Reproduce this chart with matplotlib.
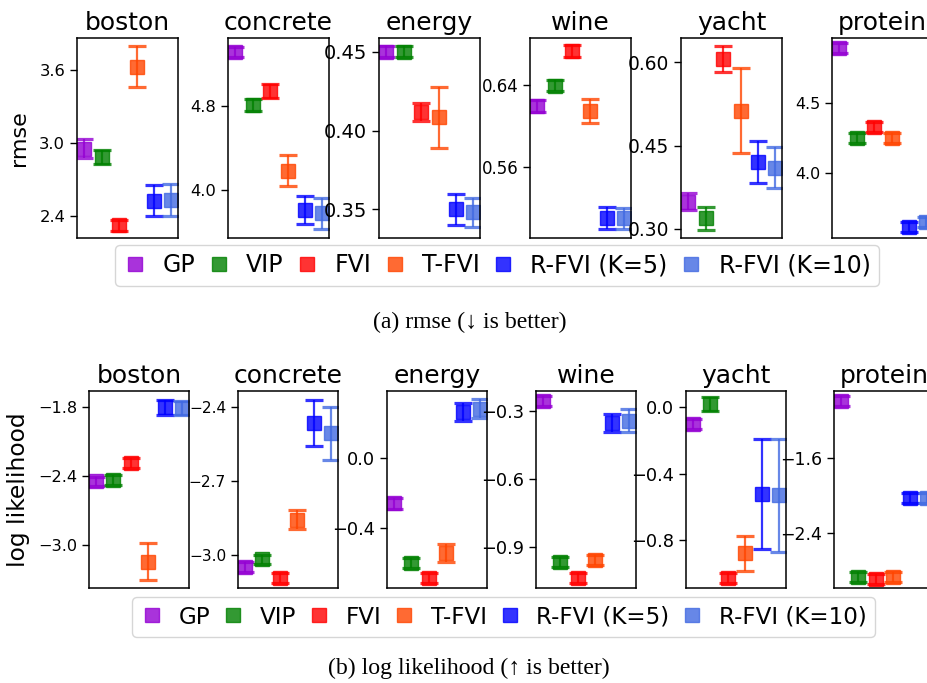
import numpy as np
import matplotlib
matplotlib.use("Agg")
import matplotlib.pyplot as plt
from matplotlib.lines import Line2D
from matplotlib.ticker import FixedLocator

# Data
datasets = ["boston", "concrete", "energy", "wine", "yacht", "protein"]
methods = ["GP", "VIP", "FVI", "T-FVI", "R-FVI (K=5)", "R-FVI (K=10)"]
colors = ["darkviolet", "green", "red", "orangered", "blue", "royalblue"]

# rows: dataset, columns: method
rmse_mean = [
    [2.953, 2.884, 2.320, 3.630, 2.524, 2.530],
    [5.317, 4.810, 4.943, 4.184, 3.810, 3.778],
    [0.450, 0.450, 0.4116, 0.4084, 0.350, 0.348],
    [0.6194, 0.6393, 0.6733, 0.6145, 0.510, 0.5094],
    [0.349, 0.319, 0.606, 0.513, 0.420, 0.4104],
    [4.893, 4.246, 4.324, 4.246, 3.614, 3.650],
]
rmse_err = [
    [0.080, 0.058, 0.045, 0.170, 0.127, 0.130],
    [0.050, 0.055, 0.070, 0.146, 0.136, 0.146],
    [0.0035, 0.0035, 0.0057, 0.0194, 0.010, 0.009],
    [0.006, 0.0055, 0.006, 0.0118, 0.011, 0.0106],
    [0.015, 0.020, 0.0234, 0.077, 0.038, 0.0366],
    [0.035, 0.035, 0.035, 0.035, 0.035, 0.035],
]
rmse_ylim = [(2.216, 3.867), (3.543, 5.448), (0.3318, 0.4587),
             (0.4902, 0.686), (0.2838, 0.6438), (3.534, 4.962)]
rmse_ticks = [[2.4, 3.0, 3.6], [4.0, 4.8], [0.35, 0.40, 0.45],
              [0.56, 0.64], [0.30, 0.45, 0.60], [4.0, 4.5]]

ll_mean = [
    [-2.449, -2.440, -2.290, -3.145, -1.805, -1.810],
    [-3.047, -3.018, -3.095, -2.856, -2.463, -2.506],
    [-0.261, -0.600, -0.686, -0.543, 0.260, 0.280],
    [-0.256, -0.966, -1.036, -0.957, -0.353, -0.344],
    [-0.101, 0.020, -1.031, -0.880, -0.525, -0.531],
    [-0.986, -2.869, -2.891, -2.863, -2.020, -2.020],
]
ll_err = [
    [0.043, 0.043, 0.043, 0.159, 0.065, 0.060],
    [0.020, 0.020, 0.020, 0.040, 0.093, 0.109],
    [0.029, 0.029, 0.029, 0.052, 0.050, 0.055],
    [0.022, 0.022, 0.022, 0.022, 0.040, 0.050],
    [0.030, 0.040, 0.030, 0.106, 0.332, 0.342],
    [0.053, 0.053, 0.053, 0.053, 0.053, 0.053],
]
ll_ylim = [(-3.373, -1.664), (-3.134, -2.334), (-0.743, 0.3806),
           (-1.079, -0.2134), (-1.09, 0.098), (-2.983, -0.882)]
ll_ticks = [[-3.0, -2.4, -1.8], [-3.0, -2.7, -2.4], [-0.4, 0.0],
            [-0.9, -0.6, -0.3], [-0.8, -0.4, 0.0], [-2.4, -1.6]]

W, H = 928, 683
fig = plt.figure(figsize=(W/100, H/100), dpi=100)

# axes boxes in pixels: left edges, width, top, bottom
# (the panels were pasted in at slightly different scales, so tick sizes vary)
rows = [
    dict(lefts=[77, 228, 379, 530, 681, 832], width=101, top=38, bottom=238,
         mean=rmse_mean, err=rmse_err, ylim=rmse_ylim, ticks=rmse_ticks,
         ylabel="rmse", ylabelsize=16, labelpad=7.5,
         ticksize=[11.8, 11.8, 14, 12, 13.4, 11.4],
         legendsize=17, legendpos=(497, 265.5)),
    dict(lefts=[89, 238, 387, 536, 686, 834], width=100, top=391, bottom=588,
         mean=ll_mean, err=ll_err, ylim=ll_ylim, ticks=ll_ticks,
         ylabel="log likelihood", ylabelsize=16.8, labelpad=6,
         ticksize=[11.6, 11.1, 12.8, 12.8, 12.8, 12.5],
         legendsize=16.6, legendpos=(503.5, 617)),
]

handles = [Line2D([], [], marker="s", linestyle="none", color=c,
                  markersize=10.5, alpha=0.8) for c in colors]

x = np.arange(len(methods))
for r in rows:
    for i, name in enumerate(datasets):
        ax = fig.add_axes([r["lefts"][i]/W, 1 - r["bottom"]/H,
                           r["width"]/W, (r["bottom"] - r["top"])/H])
        for j in range(len(methods)):
            ax.errorbar(x[j], r["mean"][i][j], yerr=r["err"][i][j],
                        fmt="s", color=colors[j], markersize=10,
                        elinewidth=1.6, capsize=6.5, capthick=2.3, alpha=0.8)
        ax.set_xlim(-0.42, 5.38)
        ax.set_ylim(r["ylim"][i])
        ax.set_xticks([])
        ax.yaxis.set_major_locator(FixedLocator(r["ticks"][i]))
        ax.tick_params(axis="y", labelsize=r["ticksize"][i], length=5,
                       width=1.0, pad=3.5)
        ax.set_title(name, fontsize=18, pad=6)
        for s in ax.spines.values():
            s.set_linewidth(1.1)
        if i == 0:
            ax.set_ylabel(r["ylabel"], fontsize=r["ylabelsize"],
                          labelpad=r["labelpad"])

    lx, ly = r["legendpos"]
    fig.legend(handles, methods, loc="center", bbox_to_anchor=(lx/W, 1 - ly/H),
               ncol=6, fontsize=r["legendsize"], handlelength=1.0,
               handletextpad=0.65, columnspacing=0.5, borderpad=0.35,
               frameon=True)

serif = ["Liberation Serif", "DejaVu Serif"]
fig.text(470/W, 1 - 322/H, "(a) rmse (\u2193 is better)", ha="center",
         va="center", fontsize=17.1, family=serif)
fig.text(469/W, 1 - 668/H, "(b) log likelihood (\u2191 is better)",
         ha="center", va="center", fontsize=17.1, family=serif)

plt.savefig("out.png", dpi=100)
